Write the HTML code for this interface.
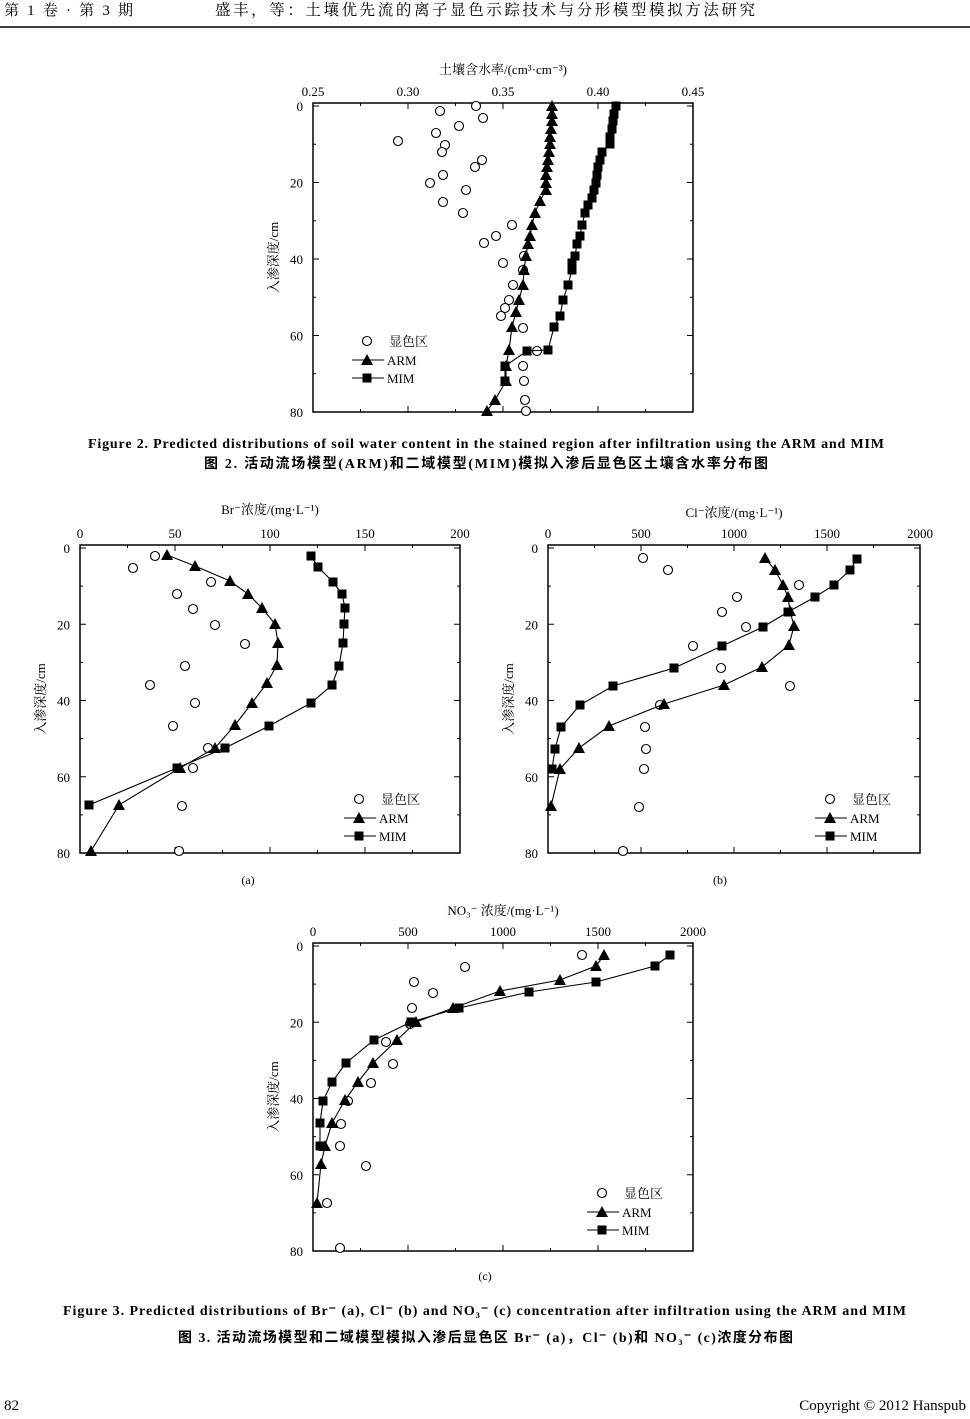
<!DOCTYPE html>
<html><head><meta charset="utf-8"><style>
body{margin:0;background:#fff;width:970px;height:1414px;overflow:hidden}
svg text{font-family:"Liberation Serif","Noto Serif CJK SC",serif;fill:#000}
.b{font-family:"Liberation Serif","Noto Sans CJK SC",sans-serif;font-weight:bold}
</style></head><body>
<svg id="s" width="970" height="1414" xmlns="http://www.w3.org/2000/svg">
<text x="4" y="15" font-size="15" textLength="129" lengthAdjust="spacing">第 1 卷 · 第 3 期</text>
<text x="215" y="15" font-size="15.5" textLength="540" lengthAdjust="spacing">盛丰，等：土壤优先流的离子显色示踪技术与分形模型模拟方法研究</text>
<line x1="0" y1="27" x2="970" y2="27" stroke="#000" stroke-width="1.5"/>
<text x="4" y="1410" font-size="15">82</text>
<text x="966" y="1410" font-size="15" text-anchor="end">Copyright © 2012 Hanspub</text>

<text x="88" y="448" font-size="14" class="b" textLength="796" lengthAdjust="spacing">Figure 2. Predicted distributions of soil water content in the stained region after infiltration using the ARM and MIM</text>
<text x="204" y="468" font-size="14" class="b" textLength="564" lengthAdjust="spacing">图 2. 活动流场模型(ARM)和二域模型(MIM)模拟入渗后显色区土壤含水率分布图</text>
<text x="63" y="1315" font-size="14" class="b" textLength="843" lengthAdjust="spacing">Figure 3. Predicted distributions of  Br⁻ (a),  Cl⁻ (b) and  NO₃⁻ (c) concentration after infiltration using the ARM and MIM</text>
<text x="178" y="1342" font-size="14" class="b" textLength="615" lengthAdjust="spacing">图 3. 活动流场模型和二域模型模拟入渗后显色区 Br⁻ (a)，Cl⁻ (b)和 NO₃⁻ (c)浓度分布图</text>
<text x="248" y="884" font-size="12" text-anchor="middle">(a)</text>
<text x="720" y="884" font-size="12" text-anchor="middle">(b)</text>
<text x="485" y="1280" font-size="12" text-anchor="middle">(c)</text>
<g id="g"></g>
</svg>
<script>
var g=document.getElementById('g'),h='';
function panel(x0,y0,x1,y1,xl,xt,title,yo,ty,lx,ly){
 h+='<rect x="'+x0+'" y="'+y0+'" width="'+(x1-x0)+'" height="'+(y1-y0)+'" fill="none" stroke="#000" stroke-width="1.5"/>';
 for(var i=0;i<xl.length;i++){var x=x0+(x1-x0)*i/(xl.length-1);
  h+='<text x="'+x+'" y="'+(y0-7)+'" font-size="13" text-anchor="middle">'+xl[i]+'</text>';
  if(i>0&&i<xl.length-1){h+='<line x1="'+x+'" y1="'+y0+'" x2="'+x+'" y2="'+(y0+6)+'" stroke="#000"/><line x1="'+x+'" y1="'+y1+'" x2="'+x+'" y2="'+(y1-6)+'" stroke="#000"/>';}
  if(i<xl.length-1){var xm=x+(x1-x0)/(xl.length-1)/2;h+='<line x1="'+xm+'" y1="'+y0+'" x2="'+xm+'" y2="'+(y0+3)+'" stroke="#000"/><line x1="'+xm+'" y1="'+y1+'" x2="'+xm+'" y2="'+(y1-3)+'" stroke="#000"/>';}
 }
 for(var d=0;d<=80;d+=10){var y=y0+3+(y1-y0-3)*d/80;var L=d%20?3:6;
  h+='<line x1="'+x0+'" y1="'+y+'" x2="'+(x0+L)+'" y2="'+y+'" stroke="#000"/><line x1="'+x1+'" y1="'+y+'" x2="'+(x1-L)+'" y2="'+y+'" stroke="#000"/>';
  if(d%20==0)h+='<text x="'+(x0-10)+'" y="'+(y+5)+'" font-size="13" text-anchor="end">'+d+'</text>';}
 h+='<text x="'+((x0+x1)/2)+'" y="'+ty+'" font-size="13" text-anchor="middle">'+title+'</text>';
 h+='<text transform="translate('+(x0-yo)+','+((y0+y1)/2)+') rotate(-90)" font-size="13" text-anchor="middle">入渗深度/cm</text>';
 h+=circ(lx+15,ly)+'<text x="'+(lx+37)+'" y="'+(ly+5)+'" font-size="13">显色区</text>';
 h+='<line x1="'+lx+'" y1="'+(ly+19)+'" x2="'+(lx+32)+'" y2="'+(ly+19)+'" stroke="#000"/>'+tri(lx+15,ly+19)+'<text x="'+(lx+35)+'" y="'+(ly+24)+'" font-size="13">ARM</text>';
 h+='<line x1="'+lx+'" y1="'+(ly+37)+'" x2="'+(lx+32)+'" y2="'+(ly+37)+'" stroke="#000"/>'+sq(lx+15,ly+37)+'<text x="'+(lx+35)+'" y="'+(ly+42)+'" font-size="13">MIM</text>';
}
function circ(x,y){return '<circle cx="'+x+'" cy="'+y+'" r="4.5" fill="#fff" stroke="#000" stroke-width="1.1"/>';}
function tri(x,y){return '<polygon points="'+x+','+(y-6)+' '+(x-6)+','+(y+5)+' '+(x+6)+','+(y+5)+'" fill="#000"/>';}
function sq(x,y){return '<rect x="'+(x-4.5)+'" y="'+(y-4.5)+'" width="9" height="9" fill="#000"/>';}
function ser(p,f,line){if(line){h+='<polyline fill="none" stroke="#000" stroke-width="1.1" points="'+p.map(function(q){return q.join(',')}).join(' ')+'"/>';}
 p.forEach(function(q){h+=f(q[0],q[1]);});}
panel(313,103,693,412,['0.25','0.30','0.35','0.40','0.45'],0,'土壤含水率/(cm³·cm⁻³)',35,74,352,341);
ser([[476,106],[440,111],[483,118],[459,126],[436,133],[445,145],[398,141],[442,152],[482,160],[475,167],[443,175],[430,183],[466,190],[443,202],[463,213],[512,225],[496,236],[484,243],[503,263],[524,256],[523,270],[513,285],[509,300],[505,308],[501,316],[523,328],[537,351],[523,366],[524,381],[525,400],[526,411]],circ,0);
ser([[552,106],[552,114],[552,121],[551,129],[550,137],[550,144],[549,152],[548,160],[547,167],[546,175],[546,183],[546,190],[540,201],[535,213],[532,225],[530,236],[528,244],[526,256],[524,270],[523,285],[519,300],[516,312],[512,327],[509,350],[506,366],[506,381],[495,400],[487,411]],tri,1);
ser([[616,106],[614,114],[613,121],[612,129],[610,137],[610,144],[602,152],[600,160],[598,167],[597,175],[596,183],[594,190],[592,198],[588,205],[585,213],[582,225],[580,236],[577,244],[575,256],[572,263],[572,270],[568,285],[563,300],[560,316],[554,327],[548,350],[527,351],[505,366],[505,381]],sq,1);
panel(80,545,460,853,['0','50','100','150','200'],0,'Br⁻浓度/(mg·L⁻¹)',35,514,344,799);
ser([[155,556],[133,568],[211,582],[177,594],[193,609],[215,625],[245,644],[185,666],[150,685],[195,703],[173,726],[208,748],[193,768],[182,806],[179,851]],circ,0);
ser([[167,555],[195,566],[230,581],[248,594],[262,608],[275,624],[278,643],[277,665],[267,683],[252,703],[235,725],[215,748],[180,768],[119,805],[91,851]],tri,1);
ser([[311,556],[318,567],[333,582],[342,594],[345,608],[344,624],[343,643],[339,666],[332,685],[311,703],[269,726],[225,748],[177,768],[89,805]],sq,1);
panel(548,545,920,853,['0','500','1000','1500','2000'],0,'Cl⁻浓度/(mg·L⁻¹)',35,517,815,799);
ser([[643,558],[668,570],[799,585],[737,597],[722,612],[746,627],[693,646],[721,668],[790,686],[660,705],[645,727],[646,749],[644,769],[639,807],[623,851]],circ,0);
ser([[765,558],[775,570],[783,585],[788,597],[790,611],[794,626],[789,645],[762,667],[724,685],[664,704],[609,726],[579,748],[560,769],[551,806]],tri,1);
ser([[857,559],[850,570],[834,585],[815,597],[788,612],[763,627],[722,646],[674,668],[613,686],[580,705],[561,727],[555,749],[552,769]],sq,1);
panel(313,943,693,1251,['0','500','1000','1500','2000'],0,'NO₃⁻ 浓度/(mg·L⁻¹)',35,915,587,1193);
ser([[582,955],[465,967],[414,982],[433,993],[412,1008],[410,1024],[386,1042],[393,1064],[371,1083],[348,1101],[341,1124],[340,1146],[366,1166],[327,1203],[340,1248]],circ,0);
ser([[604,955],[596,966],[560,980],[500,991],[453,1008],[416,1022],[397,1040],[373,1063],[358,1082],[345,1100],[332,1123],[325,1146],[321,1164],[317,1203]],tri,1);
ser([[670,955],[655,966],[596,982],[529,992],[459,1008],[411,1022],[374,1040],[346,1063],[332,1082],[323,1101],[320,1123],[320,1146]],sq,1);
g.innerHTML=h;
</script>
</body></html>
